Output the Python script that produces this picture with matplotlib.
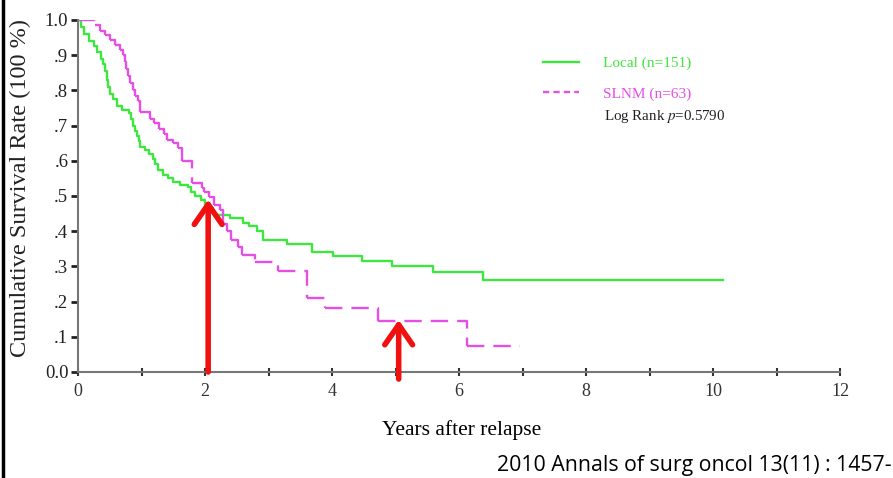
import matplotlib
matplotlib.use('Agg')
import matplotlib.pyplot as plt
from matplotlib.collections import LineCollection
from matplotlib.lines import Line2D
import numpy as np

# Kaplan-Meier step data
local_years = [0.00, 0.05, 0.10, 0.17, 0.25, 0.30, 0.37, 0.40, 0.43, 0.46, 0.48, 0.50,
               0.55, 0.61, 0.70, 0.80, 0.83, 0.87, 0.90, 0.93, 0.96, 0.98, 1.05, 1.12,
               1.18, 1.22, 1.26, 1.34, 1.42, 1.50, 1.60, 1.73, 1.78, 1.85, 1.93, 2.00,
               2.05, 2.12, 2.19, 2.39, 2.60, 2.70, 2.82, 2.91, 3.29, 3.69, 4.02, 4.47,
               4.94, 5.59, 6.38, 10.15]
local_surv = [1.00, 0.98, 0.96, 0.94, 0.925, 0.91, 0.89, 0.875, 0.855, 0.83, 0.81, 0.79,
              0.775, 0.755, 0.745, 0.735, 0.72, 0.70, 0.685, 0.67, 0.655, 0.64, 0.63, 0.62,
              0.605, 0.59, 0.575, 0.56, 0.55, 0.54, 0.53, 0.525, 0.51, 0.50, 0.49, 0.475,
              0.465, 0.45, 0.445, 0.437, 0.423, 0.415, 0.40, 0.375, 0.365, 0.34, 0.33, 0.315,
              0.30, 0.285, 0.26, 0.26]

slnm_years = [0.00, 0.27, 0.35, 0.42, 0.50, 0.58, 0.66, 0.71, 0.74, 0.76, 0.79, 0.82,
              0.86, 0.90, 0.94, 0.98, 1.13, 1.20, 1.28, 1.35, 1.40, 1.50, 1.58, 1.64,
              1.79, 1.95, 1.98, 2.06, 2.14, 2.24, 2.29, 2.35, 2.41, 2.52, 2.58, 2.79,
              3.15, 3.60, 3.89, 4.72, 6.12, 6.96]
slnm_surv = [1.00, 0.985, 0.97, 0.957, 0.943, 0.93, 0.915, 0.90, 0.88, 0.86, 0.84, 0.82,
             0.80, 0.785, 0.77, 0.74, 0.72, 0.707, 0.69, 0.675, 0.66, 0.65, 0.635, 0.60,
             0.537, 0.523, 0.51, 0.497, 0.475, 0.46, 0.42, 0.40, 0.375, 0.355, 0.332, 0.313,
             0.288, 0.21, 0.182, 0.146, 0.073, 0.073]

arrow_years = [2.05, 5.05]
arrow_tips = [0.49, 0.148]
arrow_bases = [0.0, -0.02]

green = '#40e640'
magenta = '#e64fe6'
red = '#f01010'

plt.rcParams['font.family'] = ['Liberation Serif', 'DejaVu Serif']
plt.rcParams['mathtext.fontset'] = 'stix'
plt.rcParams['lines.scale_dashes'] = False

fig = plt.figure(figsize=(8.93, 4.78), dpi=100)
ax = fig.add_axes([78/893, 1 - 372/478, 762/893, 352/478])

ax.step(local_years, local_surv, where='post', color=green, lw=1.7)

# dashed curve: dash pattern restarts on each step, like the original software
segs = []
for i in range(len(slnm_years) - 1):
    t0, t1 = slnm_years[i], slnm_years[i + 1]
    s0, s1 = slnm_surv[i], slnm_surv[i + 1]
    segs.append([(t0, s0), (t1, s0), (t1, s1)])
lc = LineCollection(segs, colors=magenta, linewidths=1.7,
                    linestyles=[(0, (12.5, 6.5))], capstyle='butt')
ax.add_collection(lc)

for x, tip, base in zip(arrow_years, arrow_tips, arrow_bases):
    ax.annotate('', xy=(x, tip), xytext=(x, base),
                arrowprops=dict(arrowstyle='->,head_length=0.72,head_width=0.5',
                                color=red, lw=4, shrinkA=0, shrinkB=0,
                                mutation_scale=20),
                annotation_clip=False)

ax.set_xlim(0, 12)
ax.set_ylim(0, 1.0)
ax.set_xticks(np.arange(0, 13, 1))
ax.set_xticklabels([str(i) if i % 2 == 0 else '' for i in range(13)], fontsize=13)
ax.set_yticks(np.arange(0, 1.01, 0.1))
ax.set_yticklabels(['0.0', '.1', '.2', '.3', '.4', '.5', '.6', '.7', '.8', '.9', '1.0'],
                   fontsize=13.5)
ax.tick_params(axis='y', direction='out', length=5, width=2, pad=2, colors='#222222')
ax.tick_params(axis='x', direction='inout', length=6, width=1.5, pad=5, colors='#333333')
for sp in ['top', 'right']:
    ax.spines[sp].set_visible(False)
for sp in ['left', 'bottom']:
    ax.spines[sp].set_color('#777777')
    ax.spines[sp].set_linewidth(1.5)

ax.set_xlabel('Years after relapse', fontsize=15.5)
ax.xaxis.set_label_coords(0.504, -0.136)
fig.text(20/893, 1 - 188/478, 'Cumulative Survival Rate (100 %)', fontsize=17.5,
         rotation=90, ha='center', va='center', color='#222222')

handles = [Line2D([], [], color=green, lw=1.7),
           Line2D([], [], color=magenta, lw=1.7, dashes=(4.5, 3))]
leg = ax.legend(handles, ['Local (n=151)', 'SLNM (n=63)'], loc='upper left',
                bbox_to_anchor=(0.610, 0.897), frameon=False, fontsize=11,
                handlelength=2.4, handletextpad=1.55, labelspacing=1.1,
                borderpad=0, borderaxespad=0, labelcolor=[green, magenta])
ax.text(0.690, 0.725, r'Log Rank $\it{p}$=0.5790', transform=ax.transAxes,
        fontsize=10.8, va='center', ha='left', color='#222222')

fig.text(497/893, 1 - 466/478, '2010 Annals of surg oncol 13(11) : 1457-',
         fontsize=15.3, family=['Open Sans', 'DejaVu Sans'], va='center', ha='left')

# black frame edge on the left of the slide
fig.add_artist(Line2D([0.003, 0.003], [0, 1], transform=fig.transFigure,
                      color='black', lw=2.5))

fig.savefig('out.png', dpi=100)
